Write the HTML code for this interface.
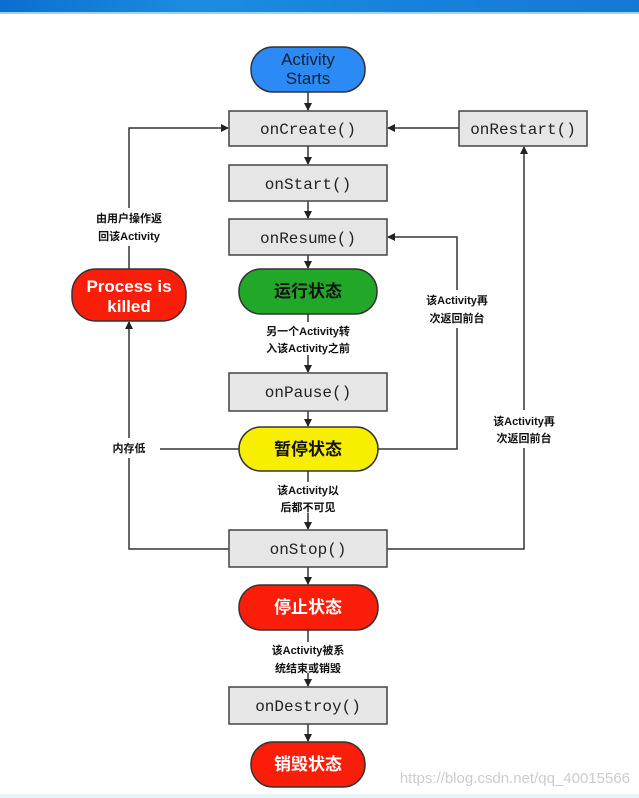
<!DOCTYPE html>
<html><head><meta charset="utf-8"><style>
html,body{margin:0;padding:0;background:#fff;width:639px;height:798px;overflow:hidden}
svg{display:block}
.b{fill:#e6e6e6;stroke:#444;stroke-width:1.5}
.m{font-family:"Liberation Mono","DejaVu Sans Mono",monospace;font-size:16px;fill:#222;text-anchor:middle}
.l{font-family:"Liberation Sans","Noto Sans CJK SC",sans-serif;font-size:11px;font-weight:bold;fill:#111;text-anchor:middle}
.s{font-family:"Liberation Sans","Noto Sans CJK SC",sans-serif;font-size:17px;font-weight:bold;text-anchor:middle}
.ln{stroke:#333;stroke-width:1.5;fill:none}
</style></head><body>
<svg width="639" height="798" viewBox="0 0 639 798">
<defs>
<linearGradient id="g" x1="0" x2="1"><stop offset="0" stop-color="#0a6fd0"/><stop offset=".3" stop-color="#1c8ce0"/><stop offset=".6" stop-color="#1783dc"/><stop offset="1" stop-color="#1479d6"/></linearGradient>
<marker id="a" markerWidth="8" markerHeight="8" refX="7" refY="4" orient="auto" markerUnits="userSpaceOnUse"><path d="M0,0 L8,4 L0,8 z" fill="#222"/></marker>
</defs>
<rect x="0" y="0" width="639" height="12" fill="url(#g)"/>
<rect x="0" y="12" width="639" height="2" fill="#9fd3f5"/>
<rect x="0" y="794" width="639" height="4" fill="#e4f4fb"/>

<!-- center connectors -->
<g class="ln" marker-end="url(#a)">
<line x1="308" y1="92" x2="308" y2="110"/>
<line x1="308" y1="146" x2="308" y2="164"/>
<line x1="308" y1="201" x2="308" y2="218"/>
<line x1="308" y1="255" x2="308" y2="268"/>
<line x1="308" y1="355" x2="308" y2="372"/>
<line x1="308" y1="411" x2="308" y2="426"/>
<line x1="308" y1="513" x2="308" y2="529"/>
<line x1="308" y1="567" x2="308" y2="584"/>
<line x1="308" y1="673" x2="308" y2="686"/>
<line x1="308" y1="724" x2="308" y2="741"/>
<line x1="459" y1="128" x2="388" y2="128"/>
<polyline points="129,269 129,128 228,128"/>
<polyline points="378,449 457,449 457,237 388,237"/>
<polyline points="387,549 524,549 524,147"/>
<polyline points="229,549 129,549 129,322"/>
</g>
<line class="ln" x1="308" y1="314" x2="308" y2="322"/>
<line class="ln" x1="308" y1="471" x2="308" y2="482"/>
<line class="ln" x1="308" y1="630" x2="308" y2="642"/>
<line class="ln" x1="239" y1="449" x2="160" y2="449"/>

<!-- label backgrounds -->
<rect x="80" y="208" width="98" height="38" fill="#fff"/>
<rect x="98" y="438" width="62" height="20" fill="#fff"/>
<rect x="408" y="290" width="98" height="38" fill="#fff"/>
<rect x="474" y="410" width="100" height="38" fill="#fff"/>

<!-- nodes -->
<rect x="251" y="47" width="114" height="45" rx="22" fill="#2b8af5" stroke="#333" stroke-width="1.5"/>
<text x="308" y="65" class="s" style="font-weight:normal;fill:#123;font-size:17px">Activity</text>
<text x="308" y="84" class="s" style="font-weight:normal;fill:#123;font-size:17px">Starts</text>

<rect class="b" x="229" y="111" width="158" height="35"/><text class="m" x="308" y="134">onCreate()</text>
<rect class="b" x="459" y="111" width="128" height="35"/><text class="m" x="523" y="134">onRestart()</text>
<rect class="b" x="229" y="165" width="158" height="36"/><text class="m" x="308" y="189">onStart()</text>
<rect class="b" x="229" y="219" width="158" height="36"/><text class="m" x="308" y="243">onResume()</text>
<rect x="239" y="269" width="138" height="45" rx="22" fill="#22a829" stroke="#333" stroke-width="1.5"/>
<text class="s" x="308" y="297" fill="#111">运行状态</text>
<rect x="72" y="269" width="114" height="52" rx="24" fill="#fa1e0a" stroke="#333" stroke-width="1.5"/>
<text class="s" x="129" y="292" fill="#fff">Process is</text>
<text class="s" x="129" y="312" fill="#fff">killed</text>

<rect class="b" x="229" y="373" width="158" height="38"/><text class="m" x="308" y="397">onPause()</text>
<rect x="239" y="427" width="139" height="44" rx="22" fill="#f8ef00" stroke="#333" stroke-width="1.5"/>
<text class="s" x="308" y="455" fill="#111">暂停状态</text>
<rect class="b" x="229" y="530" width="158" height="37"/><text class="m" x="308" y="554">onStop()</text>
<rect x="239" y="585" width="139" height="45" rx="22" fill="#fa1e0a" stroke="#333" stroke-width="1.5"/>
<text class="s" x="308" y="613" fill="#fff">停止状态</text>
<rect class="b" x="229" y="687" width="158" height="37"/><text class="m" x="308" y="711">onDestroy()</text>
<rect x="251" y="742" width="114" height="45" rx="22" fill="#fa1e0a" stroke="#333" stroke-width="1.5"/>
<text class="s" x="308" y="770" fill="#fff">销毁状态</text>

<!-- labels -->
<text class="l" x="129" y="222">由用户操作返</text>
<text class="l" x="129" y="240">回该Activity</text>
<text class="l" x="129" y="452">内存低</text>
<text class="l" x="457" y="304">该Activity再</text>
<text class="l" x="457" y="322">次返回前台</text>
<text class="l" x="524" y="425">该Activity再</text>
<text class="l" x="524" y="442">次返回前台</text>
<text class="l" x="308" y="335">另一个Activity转</text>
<text class="l" x="308" y="352">入该Activity之前</text>
<text class="l" x="308" y="494">该Activity以</text>
<text class="l" x="308" y="511">后都不可见</text>
<text class="l" x="308" y="654">该Activity被系</text>
<text class="l" x="308" y="672">统结束或销毁</text>

<text x="630" y="783" text-anchor="end" font-family="Liberation Sans,sans-serif" font-size="15" fill="#ccc">https://blog.csdn.net/qq_40015566</text>
</svg>
</body></html>
